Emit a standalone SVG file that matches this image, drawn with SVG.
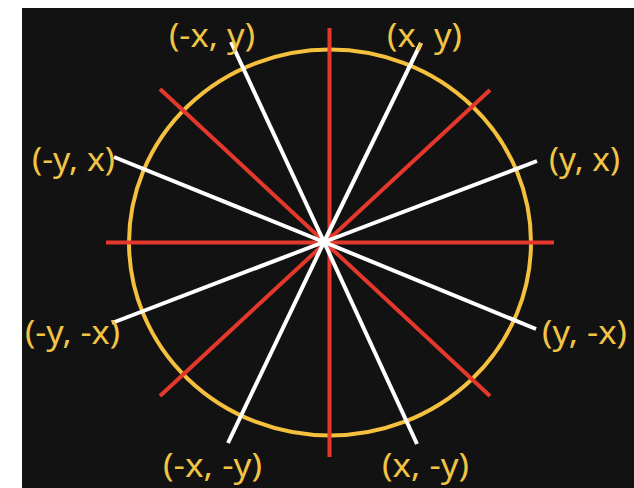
<svg xmlns="http://www.w3.org/2000/svg" width="634" height="488" viewBox="0 0 634 488">
<style>
.bg{fill:#121212}
.red{stroke:#e3382b;stroke-width:4;stroke-linecap:butt}
.wht{stroke:#ffffff;stroke-width:4;stroke-linecap:butt}
.circ{fill:none;stroke:#f4c03e;stroke-width:4}
.lbl{font-family:"Noto Sans","Open Sans",sans-serif;font-size:32px;fill:#f2c445}
</style>
<rect x="0" y="0" width="634" height="488" fill="#ffffff"/>
<rect class="bg" x="22" y="8" width="612" height="480"/>
<g id="circle">
<ellipse class="circ" cx="330" cy="242.5" rx="201" ry="193"/>
</g>
<g id="connectors">
<line class="red" x1="106" y1="242.5" x2="554" y2="242.5"/>
<line class="red" x1="329.5" y1="28" x2="329.5" y2="457"/>
<line class="red" x1="160" y1="89" x2="490" y2="396"/>
<line class="red" x1="490" y1="90" x2="160" y2="396"/>
<line class="wht" x1="324" y1="242" x2="231" y2="42"/>
<line class="wht" x1="324" y1="242" x2="421" y2="43"/>
<line class="wht" x1="324" y1="242" x2="114" y2="157"/>
<line class="wht" x1="324" y1="242" x2="537" y2="161"/>
<line class="wht" x1="324" y1="242" x2="112" y2="323"/>
<line class="wht" x1="324" y1="242" x2="536" y2="329"/>
<line class="wht" x1="324" y1="242" x2="228" y2="443"/>
<line class="wht" x1="324" y1="242" x2="417" y2="444"/>
</g>
<g id="label-nx-y"><text class="lbl" x="169" y="47" textLength="86" lengthAdjust="spacingAndGlyphs">(-x, y)</text></g>
<g id="label-x-y"><text class="lbl" x="387" y="47" textLength="75" lengthAdjust="spacingAndGlyphs">(x, y)</text></g>
<g id="label-ny-x"><text class="lbl" x="32" y="171" textLength="83" lengthAdjust="spacingAndGlyphs">(-y, x)</text></g>
<g id="label-y-x"><text class="lbl" x="549" y="171" textLength="71" lengthAdjust="spacingAndGlyphs">(y, x)</text></g>
<g id="label-ny-nx"><text class="lbl" x="25" y="344" textLength="95" lengthAdjust="spacingAndGlyphs">(-y, -x)</text></g>
<g id="label-y-nx"><text class="lbl" x="542" y="344" textLength="85" lengthAdjust="spacingAndGlyphs">(y, -x)</text></g>
<g id="label-nx-ny"><text class="lbl" x="163" y="477" textLength="99" lengthAdjust="spacingAndGlyphs">(-x, -y)</text></g>
<g id="label-x-ny"><text class="lbl" x="382" y="477" textLength="87" lengthAdjust="spacingAndGlyphs">(x, -y)</text></g>
</svg>
